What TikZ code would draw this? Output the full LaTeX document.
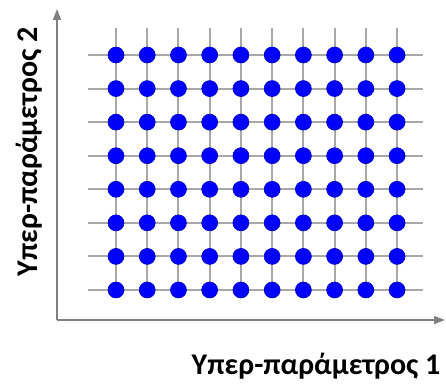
\documentclass[tikz,border=0pt]{standalone}
\usepackage{fontspec}
\setmainfont{Carlito}
\usetikzlibrary{arrows.meta}

\definecolor{gridgray}{RGB}{168,168,168}
\definecolor{axisgray}{RGB}{128,128,128}

\begin{document}
\begin{tikzpicture}[x=1pt,y=1pt,
    every node/.style={font=\bfseries\fontsize{30}{34}\selectfont},
    gridline/.style={gridgray,line width=2pt},
    axisline/.style={axisgray,line width=1.6pt,-{Triangle[length=11pt,width=8pt]}},
    dot/.style={circle,fill=blue,draw=blue!75!black,line width=0.6pt,
      minimum size=16pt,inner sep=0pt}]
  \useasboundingbox (0,0) rectangle (446,383);
  % axes
  \coordinate (o) at (57,63);
  \coordinate (ytip) at (57,374);
  \coordinate (xtip) at (445,63);
  \draw[axisline] (o) -- (ytip);
  \draw[axisline] (o) -- (xtip);
  % grid lines
  \foreach \j in {0,...,7} {
    \coordinate (l\j) at (88,{328-33.57*\j});
    \coordinate (r\j) at (423,{328-33.57*\j});
    \draw[gridline] (l\j) -- (r\j);
  }
  \foreach \i in {0,...,9} {
    \coordinate (t\i) at ({116+31.23*\i},355);
    \coordinate (b\i) at ({116+31.23*\i},93);
    \draw[gridline] (t\i) -- (b\i);
  }
  % grid points
  \foreach \i in {0,...,9}
    \foreach \j in {0,...,7}
      \node[dot] (p-\i-\j) at ({116+31.23*\i},{328-33.57*\j}) {};
  % labels
  \node[anchor=base] (xlab) at (316,9) {Υπερ-παράμετρος 1};
  \node[anchor=base,rotate=90] (ylab) at (37,231) {Υπερ-παράμετρος 2};
\end{tikzpicture}
\end{document}
